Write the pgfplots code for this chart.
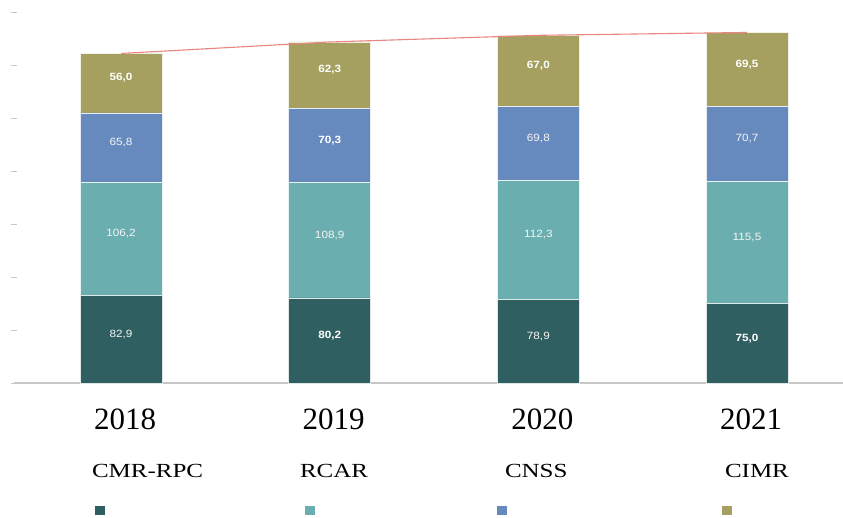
\documentclass[border=0pt]{standalone}
\usepackage{fontspec}
\setmainfont{Liberation Serif}
\newfontfamily\lsans{Liberation Sans}
\usepackage{graphicx}
\usepackage{pgfplots}
\usepackage{pgfplotstable}
\pgfplotsset{compat=1.18}

\definecolor{cmr}{RGB}{47,95,96}
\definecolor{rcar}{RGB}{106,174,176}
\definecolor{cnss}{RGB}{102,138,190}
\definecolor{cimr}{RGB}{165,160,96}
\definecolor{trend}{RGB}{234,132,128}
\definecolor{axisgray}{RGB}{200,200,200}

% contributions per regime (a = CMR-RPC, b = RCAR, c = CNSS, d = CIMR);
% ba..bd flag the labels printed in bold
\pgfplotstableread{
x a b c d ba bb bc bd
0 82.9 106.2 65.8 56.0 0 0 0 1
1 80.2 108.9 70.3 62.3 1 0 1 1
2 78.9 112.3 69.8 67.0 0 0 0 1
3 75.0 115.5 70.7 69.5 1 0 0 1
}\shares

% legend cell: name on top, colour square beneath
\newcommand\legentry[4]{\makebox[#1][l]{\begin{tabular}[t]{@{}l@{}}\scalebox{1.25}[1]{#2}\\[13pt]\hspace*{#4}\textcolor{#3}{\rule{10pt}{9pt}}\end{tabular}}}

\pgfplotsset{
  common/.style={
    scale only axis, width=829pt, height=381.6pt,
    xmin=-0.513, xmax=3.46, ymin=0, ymax=360,
  },
  seglabel/.style={
    draw=none, mark=none,
    point meta=explicit,
    nodes near coords={\scalebox{1.12}[1]{\pgfmathprintnumber[assume math mode=true,use comma,fixed,fixed zerofill,precision=1]{\pgfplotspointmeta}}},
    nodes near coords align={center},
    every node near coord/.append style={text=white!92!gray, font=\lsans\fontsize{10.5}{12}\selectfont, yshift=5pt},
  },
  boldlabel/.style={seglabel, every node near coord/.append style={text=white, font=\lsans\bfseries\fontsize{10.5}{12}\selectfont}},
}

\begin{document}
\begin{tikzpicture}
\begin{axis}[
  common,
  ybar stacked, bar width=82pt,
  axis lines*=left,
  x axis line style={axisgray, line width=1.3pt},
  y axis line style={draw=none},
  xtick={0,1,2,3}, xticklabels={2018,2019,2020,2021},
  x tick style={draw=none},
  xticklabel style={font=\fontsize{31}{36}\selectfont, anchor=base, yshift=-43pt, xshift=4pt},
  ytick={0,50,...,350}, yticklabels={},
  y tick style={axisgray, line width=0.9pt},
  major tick length=6pt, tick align=center,
  legend columns=4, legend cell align=left,
  legend image code/.code={},
  legend style={at={(0.0941,-0.2049)}, anchor=north west, draw=none, fill=none,
    inner sep=0pt, outer sep=0pt, column sep=0pt, nodes={inner sep=0pt},
    font=\fontsize{20}{24}\selectfont},
]
\addplot[fill=cmr, draw=white!85!cmr, line width=0.6pt] table[x=x, y=a]{\shares};
\addlegendentry{\legentry{208pt}{CMR-RPC}{cmr}{3pt}}
\addplot[fill=rcar, draw=white!85!rcar, line width=0.6pt] table[x=x, y=b]{\shares};
\addlegendentry{\legentry{205pt}{RCAR}{rcar}{5pt}}
\addplot[fill=cnss, draw=white!85!cnss, line width=0.6pt] table[x=x, y=c]{\shares};
\addlegendentry{\legentry{220pt}{CNSS}{cnss}{-8pt}}
\addplot[fill=cimr, draw=white!85!cimr, line width=0.6pt] table[x=x, y=d]{\shares};
\addlegendentry{\legentry{100pt}{CIMR}{cimr}{-3pt}}
\end{axis}

% totals line and segment labels
\begin{axis}[common, hide axis, clip=false]
\addplot[trend, line width=1.1pt, mark=none]
  table[x=x, y expr=\thisrow{a}+\thisrow{b}+\thisrow{c}+\thisrow{d}]{\shares};
\addplot[seglabel, restrict expr to domain={\thisrow{ba}}{-0.5:0.5}]
  table[x=x, y expr=\thisrow{a}/2, meta=a]{\shares};
\addplot[boldlabel, restrict expr to domain={\thisrow{ba}}{0.5:1.5}]
  table[x=x, y expr=\thisrow{a}/2, meta=a]{\shares};
\addplot[seglabel, restrict expr to domain={\thisrow{bb}}{-0.5:0.5}]
  table[x=x, y expr=\thisrow{a}+\thisrow{b}/2, meta=b]{\shares};
\addplot[boldlabel, restrict expr to domain={\thisrow{bb}}{0.5:1.5}]
  table[x=x, y expr=\thisrow{a}+\thisrow{b}/2, meta=b]{\shares};
\addplot[seglabel, restrict expr to domain={\thisrow{bc}}{-0.5:0.5}]
  table[x=x, y expr=\thisrow{a}+\thisrow{b}+\thisrow{c}/2, meta=c]{\shares};
\addplot[boldlabel, restrict expr to domain={\thisrow{bc}}{0.5:1.5}]
  table[x=x, y expr=\thisrow{a}+\thisrow{b}+\thisrow{c}/2, meta=c]{\shares};
\addplot[seglabel, restrict expr to domain={\thisrow{bd}}{-0.5:0.5}]
  table[x=x, y expr=\thisrow{a}+\thisrow{b}+\thisrow{c}+\thisrow{d}/2, meta=d]{\shares};
\addplot[boldlabel, restrict expr to domain={\thisrow{bd}}{0.5:1.5}]
  table[x=x, y expr=\thisrow{a}+\thisrow{b}+\thisrow{c}+\thisrow{d}/2, meta=d]{\shares};
\end{axis}

\pgfresetboundingbox
\path ([xshift=-14pt,yshift=-134pt]current axis.south west) rectangle ([yshift=1.4pt]current axis.north east);
\end{tikzpicture}
\end{document}
